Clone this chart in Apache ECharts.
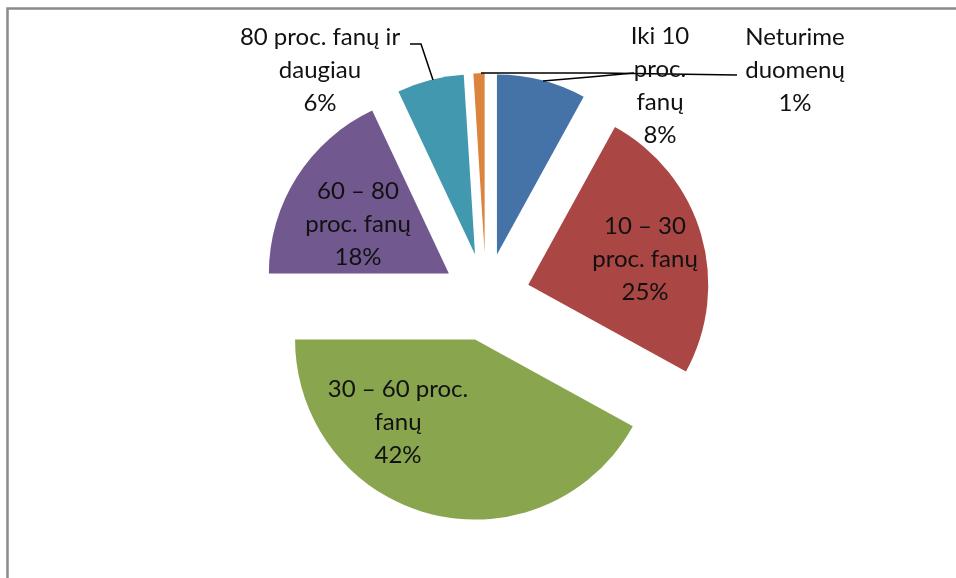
<!DOCTYPE html>
<html>
<head>
<meta charset="utf-8">
<script src="https://cdn.jsdelivr.net/npm/echarts@6/dist/echarts.min.js"></script>
<style>
  html, body { margin: 0; padding: 0; background: #fff; }
  #chart { width: 956px; height: 578px; }
</style>
</head>
<body>
<div id="chart"></div>
<script>
// pyragas: kategorijos ir procentai
var categories = ['Iki 10\nproc.\nfanų', '10 – 30\nproc. fanų', '30 – 60 proc.\nfanų',
                  '60 – 80\nproc. fanų', '80 proc. fanų ir\ndaugiau', 'Neturime\nduomenų'];
var values = [8, 25, 42, 18, 6, 1];
var colors = ['#4572A7', '#AA4643', '#89A54E', '#71588F', '#4198AF', '#DB843D'];
var insideLabel = [false, true, true, true, false, false];

// etikečių vietos (centrai) ir linijos
var labelPos = [[660, 86], [645, 259], [398, 422], [358, 224], [320, 70], [795, 70]];
var leaderPts = [
    [[543, 81], [590, 77], [634, 73]],
    null, null, null,
    [[433, 80], [421, 44], [410, 44]],
    [[481, 73], [600, 73], [737, 75]]
];

var chartDom = document.getElementById('chart');
var myChart = echarts.init(chartDom);

// išskleisti sektoriai
var pieData = [];
// tik etiketės (skaidrūs sektoriai, kad labelLayout veiktų)
var labelData = [];
for (var i = 0; i < values.length; i++) {
    pieData.push({
        name: categories[i],
        value: values[i],
        selected: true,
        itemStyle: { color: colors[i] }
    });
    labelData.push({
        name: categories[i],
        value: values[i],
        label: { position: insideLabel[i] ? 'inside' : 'outside' },
        labelLine: { show: !insideLabel[i] }
    });
}

option = {
    animation: false,
    graphic: [{
        type: 'rect',
        shape: { x: 7.5, y: 8.5, width: 980, height: 600 },
        style: { fill: 'none', stroke: '#8a8a8a', lineWidth: 2.5 },
        silent: true
    }],
    series: [
        {
            type: 'pie',
            center: [486, 297],
            radius: [0, 180],
            startAngle: 90,
            clockwise: true,
            selectedMode: 'multiple',
            selectedOffset: 44,
            itemStyle: { borderWidth: 0 },
            emphasis: { disabled: true },
            label: { show: false },
            labelLine: { show: false },
            data: pieData
        },
        {
            type: 'pie',
            z: 5,
            silent: true,
            center: [486, 297],
            radius: [0, 180],
            startAngle: 90,
            clockwise: true,
            avoidLabelOverlap: false,
            itemStyle: { color: 'rgba(0,0,0,0)', borderWidth: 0 },
            emphasis: { disabled: true },
            label: {
                show: true,
                formatter: function (p) { return p.name + '\n' + p.value + '%'; },
                fontFamily: 'Lato',
                fontSize: 24,
                lineHeight: 33,
                color: '#111',
                align: 'center'
            },
            labelLine: {
                lineStyle: { color: '#000', width: 1.5 }
            },
            labelLayout: function (params) {
                var idx = params.dataIndex;
                var res = {
                    x: labelPos[idx][0],
                    y: labelPos[idx][1],
                    align: 'center',
                    verticalAlign: 'middle'
                };
                if (leaderPts[idx]) {
                    res.labelLinePoints = leaderPts[idx];
                }
                return res;
            },
            data: labelData
        }
    ]
};

if (option && typeof option === "object") {
    myChart.setOption(option, true);
}
</script>
</body>
</html>
